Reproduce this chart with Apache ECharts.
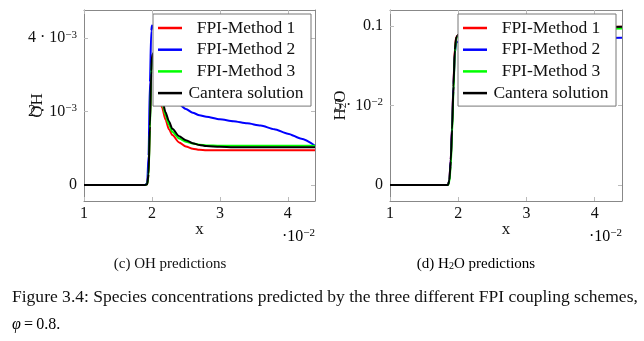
<!DOCTYPE html>
<html>
<head>
<meta charset="utf-8">
<script src="https://cdn.jsdelivr.net/npm/echarts@6/dist/echarts.min.js"></script>
<style>
html,body{margin:0;padding:0;background:#fff;}
#c{width:644px;height:341px;}
</style>
</head>
<body>
<div id="c"></div>
<script>
// ---- Data (x in units of 10^-2, OH in units of 10^-3, H2O as mass fraction) ----
const seriesNames = ['FPI-Method 1', 'FPI-Method 2', 'FPI-Method 3', 'Cantera solution'];
const seriesColors = ['#ff0000', '#0000ff', '#00ff00', '#000000'];

const xOH = [1.0, 1.5, 1.9, 1.93, 1.95, 1.97, 1.99, 2.0, 2.02, 2.05, 2.1, 2.15, 2.2, 2.25, 2.3, 2.4, 2.5, 2.6, 2.7, 2.8, 3.0, 3.2, 3.4, 3.6, 3.8, 4.0, 4.2, 4.4];
const ohMethod1 = [0, 0, 0, 0.02, 0.3, 1.7, 3.2, 3.5, 3.45, 3.0, 2.5, 2.1, 1.78, 1.52, 1.36, 1.16, 1.05, 0.99, 0.96, 0.95, 0.95, 0.95, 0.95, 0.95, 0.95, 0.95, 0.95, 0.95];
const ohMethod2 = [0, 0, 0, 0.05, 0.8, 2.8, 4.2, 4.35, 4.3, 4.0, 3.6, 3.2, 2.9, 2.65, 2.45, 2.2, 2.07, 1.97, 1.9, 1.86, 1.79, 1.74, 1.68, 1.62, 1.52, 1.40, 1.26, 1.07];
const ohMethod3 = [0, 0, 0, 0.02, 0.25, 1.5, 3.0, 3.4, 3.45, 3.1, 2.65, 2.25, 1.9, 1.65, 1.45, 1.27, 1.18, 1.13, 1.10, 1.08, 1.07, 1.07, 1.07, 1.07, 1.07, 1.07, 1.07, 1.07];
const ohCantera = [0, 0, 0, 0.02, 0.3, 1.6, 3.1, 3.5, 3.6, 3.2, 2.75, 2.35, 1.98, 1.74, 1.53, 1.33, 1.22, 1.14, 1.09, 1.06, 1.04, 1.03, 1.03, 1.03, 1.03, 1.03, 1.03, 1.03];

const xH2O = [1.0, 1.5, 1.85, 1.87, 1.89, 1.91, 1.93, 1.95, 1.97, 2.0, 2.1, 2.3, 2.6, 3.0, 3.5, 4.0, 4.4];
const h2oMethod1 = [0, 0, 0, 0.003, 0.016, 0.037, 0.064, 0.086, 0.093, 0.0945, 0.0955, 0.0965, 0.0975, 0.0982, 0.099, 0.0994, 0.0996];
const h2oMethod2 = [0, 0, 0, 0.003, 0.016, 0.037, 0.063, 0.083, 0.0895, 0.0902, 0.0905, 0.091, 0.0915, 0.092, 0.0922, 0.0924, 0.0926];
const h2oMethod3 = [0, 0, 0, 0.002, 0.012, 0.032, 0.059, 0.083, 0.092, 0.094, 0.095, 0.096, 0.0968, 0.0974, 0.098, 0.0983, 0.0985];
const h2oCantera = [0, 0, 0, 0.003, 0.015, 0.035, 0.062, 0.085, 0.093, 0.0945, 0.0955, 0.0965, 0.0975, 0.0982, 0.099, 0.0994, 0.0996];

// Tick labels
const xTickValues = [1, 2, 3, 4];
const xTickLabels = ['1', '2', '3', '4'];
const ohTickValues = [0, 2, 4];
const ohTickBase = ['0', '2 · 10', '4 · 10'];
const ohTickExp = ['', '−3', '−3'];
const h2oTickValues = [0, 0.05, 0.1];
const h2oTickBase = ['0', '5 · 10', '0.1'];
const h2oTickExp = ['', '−2', ''];

// ---- Chart ----
const FONT = 'Liberation Serif';
const TXT = '#111';
const richTick = {
  b: { fontFamily: FONT, fontSize: 16, color: TXT, lineHeight: 18 },
  s: { fontFamily: FONT, fontSize: 11, color: TXT, lineHeight: 11, verticalAlign: 'top' }
};
function tickFmt(vals, bases, exps) {
  return function (v) {
    for (let i = 0; i < vals.length; i++) {
      if (Math.abs(v - vals[i]) < 1e-9) {
        return exps[i] ? '{b|' + bases[i] + '}{s|' + exps[i] + '}' : '{b|' + bases[i] + '}';
      }
    }
    return '';
  };
}
function zip(xs, ys) { return xs.map((x, i) => [x, ys[i]]); }

const grids = [
  { left: 84, width: 231, top: 10, height: 191 },
  { left: 390, width: 232, top: 10, height: 191 }
];
const axisLineStyle = { show: true, onZero: false, lineStyle: { color: '#888', width: 1 } };
const tickStyle = { show: true, inside: true, length: 4, lineStyle: { color: '#bbb' } };

const xAxes = [], yAxes = [];
const yRanges = [[-0.436, 4.77], [-0.01006, 0.1101]];
const yTicks = [[ohTickValues, ohTickBase, ohTickExp], [h2oTickValues, h2oTickBase, h2oTickExp]];
const yNames = ['{n|OH}', '{n|H}{sub|2}{n|O}'];
const yNameGaps = [38, 41];
for (let g = 0; g < 2; g++) {
  xAxes.push({
    type: 'value', gridIndex: g, min: 1, max: 4.4, position: 'bottom',
    axisLine: axisLineStyle, splitLine: { show: false },
    axisTick: Object.assign({ customValues: xTickValues }, tickStyle),
    axisLabel: { customValues: xTickValues, margin: 5, fontFamily: FONT, fontSize: 16, color: TXT,
      formatter: v => xTickLabels[xTickValues.indexOf(Math.round(v))] || '' },
    name: 'x', nameLocation: 'middle', nameGap: 20, nameMoveOverlap: false,
    nameTextStyle: { fontFamily: FONT, fontSize: 17, color: TXT }
  });
  xAxes.push({
    type: 'value', gridIndex: g, min: 1, max: 4.4, position: 'top',
    axisLine: axisLineStyle, splitLine: { show: false },
    axisTick: Object.assign({ customValues: xTickValues }, tickStyle),
    axisLabel: { show: false }
  });
  const [tv, tb, te] = yTicks[g];
  yAxes.push({
    type: 'value', gridIndex: g, min: yRanges[g][0], max: yRanges[g][1], position: 'left',
    axisLine: axisLineStyle, splitLine: { show: false },
    axisTick: Object.assign({ customValues: tv }, tickStyle),
    axisLabel: { customValues: tv, margin: 7, formatter: tickFmt(tv, tb, te), rich: richTick },
    name: yNames[g], nameLocation: 'middle', nameRotate: 90, nameGap: yNameGaps[g], nameMoveOverlap: false,
    nameTextStyle: { rich: {
      n: { fontFamily: FONT, fontSize: 17, color: TXT },
      sub: { fontFamily: FONT, fontSize: 11, color: TXT, verticalAlign: 'bottom' }
    } }
  });
  yAxes.push({
    type: 'value', gridIndex: g, min: yRanges[g][0], max: yRanges[g][1], position: 'right',
    axisLine: axisLineStyle, splitLine: { show: false },
    axisTick: Object.assign({ customValues: tv }, tickStyle),
    axisLabel: { show: false }
  });
}

const ohData = [ohMethod1, ohMethod2, ohMethod3, ohCantera];
const h2oData = [h2oMethod1, h2oMethod2, h2oMethod3, h2oCantera];
const series = [];
for (let i = 0; i < 4; i++) {
  series.push({
    type: 'line', name: seriesNames[i], xAxisIndex: 0, yAxisIndex: 0,
    data: zip(xOH, ohData[i]), showSymbol: false, symbol: 'none',
    smooth: 0.25, smoothMonotone: 'x',
    lineStyle: { color: seriesColors[i], width: 2 }, itemStyle: { color: seriesColors[i] },
    z: 2 + i
  });
  series.push({
    type: 'line', name: seriesNames[i], xAxisIndex: 2, yAxisIndex: 2,
    data: zip(xH2O, h2oData[i]), showSymbol: false, symbol: 'none',
    smooth: 0.25, smoothMonotone: 'x',
    lineStyle: { color: seriesColors[i], width: 2 }, itemStyle: { color: seriesColors[i] },
    z: 2 + i
  });
}

function legendAt(left) {
  return {
    left: left, top: 14, orient: 'vertical', data: seriesNames,
    icon: 'rect', itemWidth: 24, itemHeight: 2.5, itemGap: 3.7,
    padding: [5, 6, 4, 5], borderColor: '#777', borderWidth: 1, borderRadius: 0,
    backgroundColor: '#fff', selectedMode: false, z: 10,
    formatter: n => '{c|' + n + '}',
    textStyle: { rich: { c: { width: 118, align: 'center', fontFamily: FONT, fontSize: 17.5, color: TXT, lineHeight: 16 } } }
  };
}

const chart = echarts.init(document.getElementById('c'), null, { renderer: 'canvas' });
chart.setOption({
  animation: false,
  backgroundColor: '#fff',
  grid: grids,
  xAxis: xAxes,
  yAxis: yAxes,
  legend: [legendAt(153), legendAt(458)],
  series: series,
  graphic: [
    { type: 'text', x: 315, y: 237, style: { text: '{b|·10}{s|−2}', align: 'right', verticalAlign: 'middle', rich: richTick } },
    { type: 'text', x: 622, y: 237, style: { text: '{b|·10}{s|−2}', align: 'right', verticalAlign: 'middle', rich: richTick } },
    { type: 'text', x: 170, y: 264, style: { text: '(c) OH predictions', align: 'center', verticalAlign: 'middle', fontFamily: FONT, fontSize: 15, fill: TXT } },
    { type: 'text', x: 476, y: 264, style: { text: '{n|(d) H}{sub|2}{n|O predictions}', align: 'center', verticalAlign: 'middle',
      rich: { n: { fontFamily: FONT, fontSize: 15, color: TXT }, sub: { fontFamily: FONT, fontSize: 10, color: TXT, verticalAlign: 'bottom' } } } },
    { type: 'text', x: 12, y: 298, scaleX: 1.095, style: { text: 'Figure 3.4: Species concentrations predicted by the three different FPI coupling schemes,', align: 'left', verticalAlign: 'middle', fontFamily: FONT, fontSize: 16, fill: TXT } },
    { type: 'text', x: 12, y: 325, style: { text: '{i|φ}{n|\u2009=\u20090.8.}', align: 'left', verticalAlign: 'middle',
      rich: { i: { fontFamily: FONT, fontSize: 16, fontStyle: 'italic', color: TXT }, n: { fontFamily: FONT, fontSize: 16, color: TXT } } } }
  ]
});
</script>
</body>
</html>
